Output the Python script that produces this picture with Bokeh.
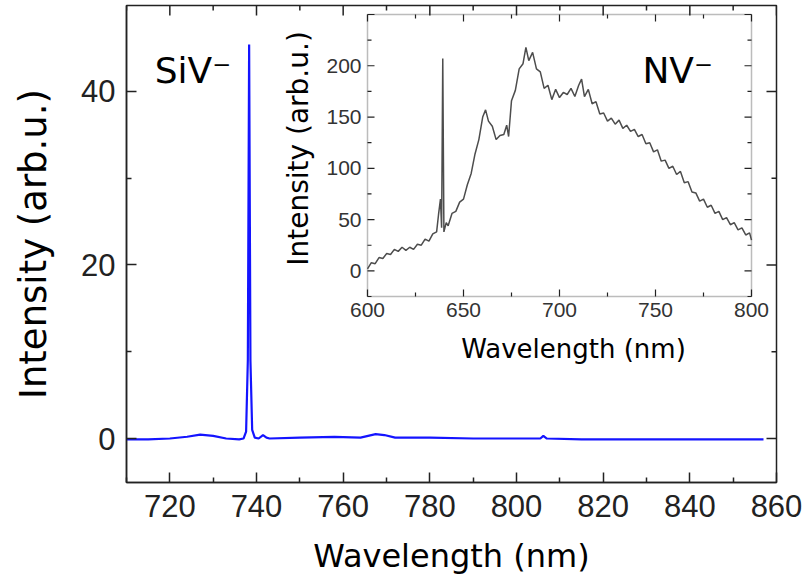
from math import pi
from bokeh.plotting import figure
from bokeh.models import Range1d, FixedTicker, BoxAnnotation, Label
from bokeh.core.properties import value
from bokeh.embed import file_html
from bokeh.resources import INLINE

# ---------------- data ----------------
siv_wl = [710, 715, 720, 724, 727, 730, 733, 736, 737.0, 737.6, 738.0, 738.3, 738.6, 739.0,
          739.6, 740.5, 741.5, 742.3, 743, 750, 758, 764, 767.5, 769.5, 772, 780, 790, 800,
          805.5, 806.2, 807, 815, 830, 845, 857]
siv_int = [-0.1, -0.1, 0.0, 0.2, 0.45, 0.3, 0.0, -0.1, 0.0, 0.8, 9.0, 45.4, 9.0, 1.0,
           0.1, 0.0, 0.4, 0.1, 0.0, 0.1, 0.2, 0.1, 0.5, 0.4, 0.1, 0.1, 0.0, 0.0,
           0.0, 0.3, 0.0, -0.1, -0.1, -0.1, -0.1]

nv_wl = [600, 602, 604, 606, 608, 610, 612, 614, 616, 618, 620, 622, 624, 626, 628, 630, 632,
         634, 636, 637, 638, 638.6, 639.2, 639.8, 641, 642, 644, 646, 648, 650, 652, 654, 656,
         658, 660, 661.5, 663, 665, 667, 669, 671, 672.5, 673.5, 675, 677, 679, 681, 682.5,
         684, 686, 688, 690, 692, 694, 696, 698, 700, 702, 704, 706, 708, 710, 711.5, 713,
         715, 717, 719, 721, 723, 725, 727, 729, 731, 733, 735, 737, 739, 741, 743, 745, 747,
         749, 751, 753, 755, 757, 759, 761, 763, 765, 767, 769, 771, 773, 775, 777, 779, 781,
         783, 785, 787, 789, 791, 793, 795, 797, 799, 800]
nv_int = [2, 8, 7, 13, 12, 17, 16, 21, 19, 23, 20, 23, 21, 26, 25, 31, 29,
          36, 38, 55, 70, 42, 207, 38, 47, 44, 56, 58, 67, 70, 84, 95, 114,
          128, 150, 157, 146, 141, 128, 132, 133, 142, 131, 166, 176, 197, 202, 218,
          205, 213, 197, 194, 178, 181, 167, 177, 169, 174, 172, 178, 170, 181, 187, 170,
          177, 163, 165, 153, 154, 146, 149, 143, 147, 139, 142, 136, 138, 131, 133, 124, 125,
          116, 118, 107, 108, 100, 102, 94, 97, 86, 87, 77, 76, 68, 70, 62, 64, 56,
          58, 50, 52, 45, 47, 40, 42, 35, 37, 30]

main_xticks = [720, 740, 760, 780, 800, 820, 840, 860]
main_xminor = [710, 730, 750, 770, 790, 810, 830, 850]
main_yticks = [0, 20, 40]
main_yminor = [10, 30]
inset_xticks = [600, 650, 700, 750, 800]
inset_xminor = [625, 675, 725, 775]
inset_yticks = [0, 50, 100, 150, 200, 250]
inset_yminor = [-25, 25, 75, 125, 175, 225]
inset_ylabels = [0, 50, 100, 150, 200]

# ---------------- layout constants (canvas px) ----------------
W, H = 804, 580
FL, FR, FT, FB = 126, 776, 5, 482          # main frame
IL, IR, IT, IB = 367, 751, 14, 296         # inset frame
X0, X1, Y0, Y1 = 710, 860, -5.07, 49.91    # main data limits
IX0, IX1, IY0, IY1 = 600, 800, -25, 250    # inset data limits

INK = "#222222"
TICKFONT = value("Liberation Sans")
TITLEFONT = "DejaVu Sans"

p = figure(width=W, height=H, output_backend="svg", toolbar_location=None,
           x_range=Range1d(X0, X1), y_range=Range1d(Y0, Y1),
           min_border_left=FL, min_border_right=W - FR,
           min_border_top=FT, min_border_bottom=H - FB)
p.xgrid.visible = False
p.ygrid.visible = False
p.outline_line_color = INK
p.outline_line_width = 1.5
p.outline_line_alpha = 1.0
p.background_fill_color = "white"
p.border_fill_color = "white"


def style_axis(ax):
    ax.major_tick_in = 10
    ax.major_tick_out = 0
    ax.minor_tick_in = 5
    ax.minor_tick_out = 0
    ax.major_tick_line_color = INK
    ax.minor_tick_line_color = INK
    ax.major_tick_line_width = 1.5
    ax.minor_tick_line_width = 1.5
    ax.axis_line_color = INK
    ax.axis_line_width = 1.5
    ax.major_label_text_font = "Liberation Sans"
    ax.major_label_text_color = INK
    ax.major_label_text_font_size = "31px"
    ax.axis_label_text_font = TITLEFONT
    ax.axis_label_text_font_style = "normal"
    ax.axis_label_text_color = "black"


xa = p.xaxis[0]
xa.ticker = FixedTicker(ticks=main_xticks, minor_ticks=main_xminor)
style_axis(xa)
xa.major_label_standoff = 12
xa.axis_label = "Wavelength (nm)"
xa.axis_label_text_font_size = "32px"
xa.axis_label_standoff = 17

ya = p.yaxis[0]
ya.ticker = FixedTicker(ticks=main_yticks, minor_ticks=main_yminor)
style_axis(ya)
ya.major_label_standoff = 11
ya.axis_label = "Intensity (arb.u.)"
ya.axis_label_text_font_size = "37px"
ya.axis_label_standoff = 23

# mirrored inward ticks on the top and right edges of the main frame
mt = dict(length_units="screen", line_color=INK, line_width=1.5)
for ticks, ln in ((main_xticks, 10), (main_xminor, 5)):
    p.ray(x=ticks, y=Y1, length=ln, angle=-pi / 2, **mt)
for ticks, ln in ((main_yticks, 10), (main_yminor, 5)):
    p.ray(x=X1, y=ticks, length=ln, angle=pi, **mt)

# main spectrum
p.line(siv_wl, siv_int, line_color="#1414ff", line_width=2.2)

# ---------------- inset drawn in the same canvas with extra ranges ----------------
sx = (IR - IL) / (IX1 - IX0)
sy = (IB - IT) / (IY1 - IY0)
p.extra_x_ranges = {"ix": Range1d(IX0 - (IL - FL) / sx, IX1 + (FR - IR) / sx)}
p.extra_y_ranges = {"iy": Range1d(IY0 - (FB - IB) / sy, IY1 + (IT - FT) / sy)}
R = dict(x_range_name="ix", y_range_name="iy")

p.add_layout(BoxAnnotation(left=IX0, right=IX1, bottom=IY0, top=IY1, fill_color="white",
                           fill_alpha=1.0, line_color=INK, line_width=1.5, level="underlay", **R))

p.line(nv_wl, nv_int, line_color="#4d4d4d", line_width=1.5, **R)

tick_style = dict(length_units="screen", line_color=INK, line_width=1.2, **R)
for ticks, ln in ((inset_xticks, 7), (inset_xminor, 4)):
    p.ray(x=ticks, y=IY0, length=ln, angle=pi / 2, **tick_style)
    p.ray(x=ticks, y=IY1, length=ln, angle=-pi / 2, **tick_style)
for ticks, ln in ((inset_yticks, 7), (inset_yminor, 4)):
    p.ray(x=IX0, y=ticks, length=ln, angle=0, **tick_style)
    p.ray(x=IX1, y=ticks, length=ln, angle=pi, **tick_style)

p.text(x=inset_xticks, y=IY0, text=[str(v) for v in inset_xticks], text_font=TICKFONT,
       text_font_size="21px", text_color="#333333", text_align="center",
       text_baseline="top", y_offset=6, **R)
p.text(x=IX0, y=inset_ylabels, text=[str(v) for v in inset_ylabels], text_font=TICKFONT,
       text_font_size="21px", text_color="#333333", text_align="right",
       text_baseline="middle", x_offset=-6, **R)

p.add_layout(Label(x=(IX0 + IX1) / 2, y=IY0, text="Wavelength (nm)", text_font=TITLEFONT,
                   text_font_size="26px", text_color="black", text_align="center",
                   text_baseline="middle", x_offset=14, y_offset=-52, **R))
p.add_layout(Label(x=IX0, y=(IY0 + IY1) / 2, text="Intensity (arb.u.)", text_font=TITLEFONT,
                   text_font_size="28px", text_color="black", text_align="center",
                   text_baseline="middle", angle=pi / 2, x_offset=-69, y_offset=7, **R))

# peak annotations
p.add_layout(Label(x=716.5, y=42.42, text="SiV\u207b", text_font=TITLEFONT,
                   text_font_size="36px", text_color="black", text_baseline="alphabetic"))
p.add_layout(Label(x=743.2, y=195.4, text="NV\u207b", text_font=TITLEFONT,
                   text_font_size="36px", text_color="black", text_baseline="alphabetic", **R))

open("out.html", "w").write(file_html(p, INLINE))
